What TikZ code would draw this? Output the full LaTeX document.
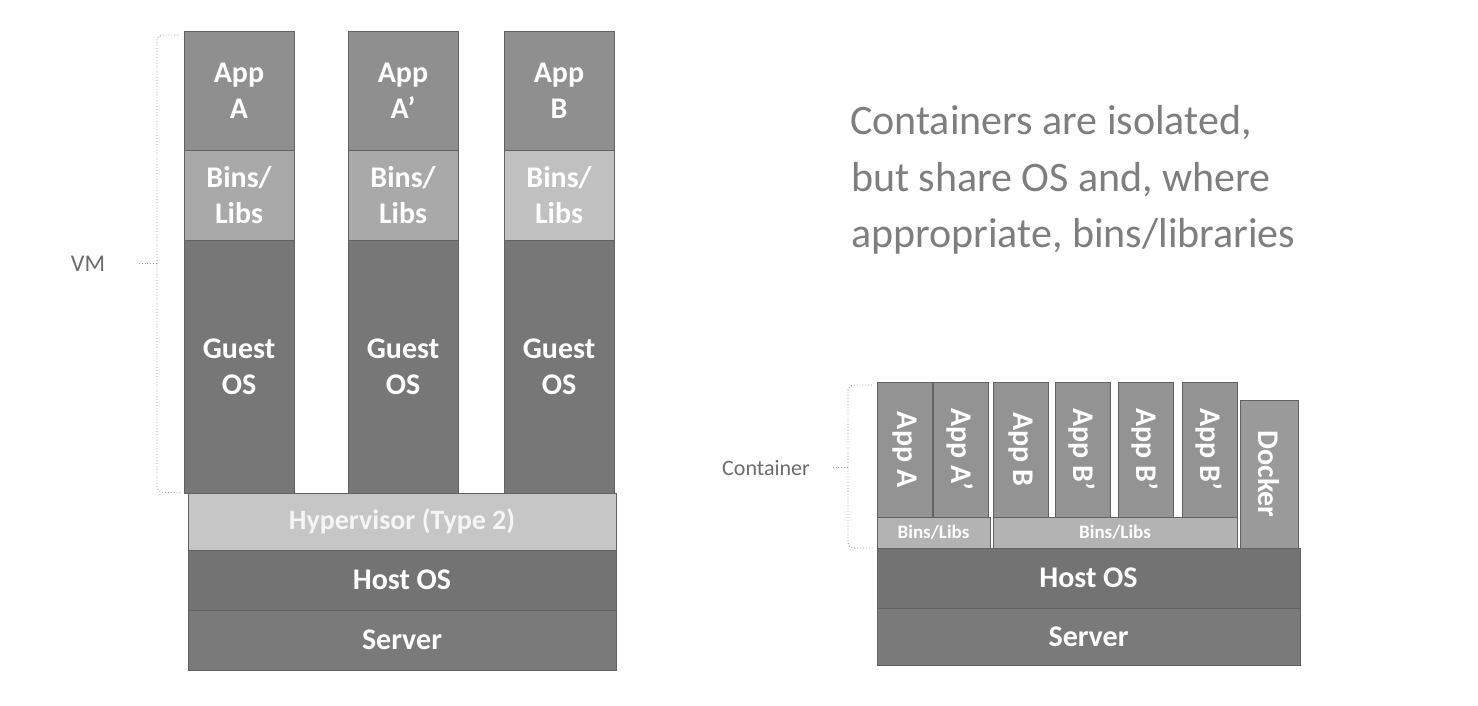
\documentclass[tikz,border=0pt]{standalone}
\usepackage{fontspec}
\setmainfont{Carlito}
\definecolor{appc}{HTML}{8F8F8F}
\definecolor{binsc}{HTML}{A9A9A9}
\definecolor{binsb}{HTML}{C0C0C0}
\definecolor{guestc}{HTML}{777777}
\definecolor{hyperc}{HTML}{C6C6C6}
\definecolor{hostc}{HTML}{737373}
\definecolor{serverc}{HTML}{7A7A7A}
\definecolor{capp}{HTML}{939393}
\definecolor{cbins}{HTML}{B3B3B3}
\definecolor{dockc}{HTML}{9A9A9A}
\definecolor{edgec}{HTML}{626262}
\definecolor{titlec}{HTML}{7E7E7E}
\definecolor{bracec}{HTML}{9A9A9A}
\begin{document}
\begin{tikzpicture}[x=1pt,y=-1pt,
  box/.style={draw=edgec, line width=0.8pt, inner sep=0pt, text=white, align=center,
    font=\fontsize{30}{36}\selectfont\bfseries},
  colw/.style={minimum width=110pt},
  vbox/.style={box, minimum width=55pt, minimum height=135pt, fill=capp},
  vtext/.style={rotate=-90},
  smalllbl/.style={font=\fontsize{19}{22}\selectfont\bfseries},
  sidelbl/.style={inner sep=0pt, text=gray!85!black, font=\fontsize{24}{28}\selectfont},
  titleline/.style={anchor=base west, inner sep=0pt, text=titlec, font=\fontsize{42}{56}\selectfont},
  bracket/.style={draw=bracec, dotted, line width=0.9pt, rounded corners=5pt},
]
\useasboundingbox (0,0) rectangle (1478,706);

% ---------- Left stack (VMs) ----------
% column 1
\node[box, colw, minimum height=119pt, fill=appc]   (a1) at (239,90.5)  {App\\A};
\node[box, colw, minimum height=90pt,  fill=binsc]  (b1) at (239,195)   {Bins/\\Libs};
\node[box, colw, minimum height=253pt, fill=guestc] (g1) at (239,366.5) {Guest\\OS};
% column 2
\node[box, colw, minimum height=119pt, fill=appc]   (a2) at (403,90.5)  {App\\A’};
\node[box, colw, minimum height=90pt,  fill=binsc]  (b2) at (403,195)   {Bins/\\Libs};
\node[box, colw, minimum height=253pt, fill=guestc] (g2) at (403,366.5) {Guest\\OS};
% column 3
\node[box, colw, minimum height=119pt, fill=appc]   (a3) at (559,90.5)  {App\\B};
\node[box, colw, minimum height=90pt,  fill=binsb]  (b3) at (559,195)   {Bins/\\Libs};
\node[box, colw, minimum height=253pt, fill=guestc] (g3) at (559,366.5) {Guest\\OS};
% base layers
\node[box, minimum width=428pt, minimum height=57pt, fill=hyperc, text=white!92!gray,
      font=\fontsize{28}{34}\selectfont\bfseries] (hyp) at (402,521.5) {Hypervisor (Type 2)};
\node[box, minimum width=428pt, minimum height=60pt, fill=hostc]   (host1) at (402,580) {Host OS};
\node[box, minimum width=428pt, minimum height=60pt, fill=serverc] (srv1)  at (402,640) {Server};

% VM bracket
\node[sidelbl] (vm) at (88,264) {VM};
\coordinate (vmtop) at (178,35);
\coordinate (vmbot) at (182,493);
\coordinate (vmtip) at (139,263);
\draw[bracket] (vmtop) -- (157,35) -- (157,492) -- (vmbot);
\draw[bracket] (157,263) -- (vmtip);

% ---------- Title ----------
\node[titleline] (t1) at (850,135) {Containers are isolated,};
\node[titleline] (t2) at (851,191) {but share OS and, where};
\node[titleline] (t3) at (851,247) {appropriate, bins/libraries};

% ---------- Right stack (containers) ----------
\node[vbox] (ca1) at (904.5,449.5)  {\rotatebox{-90}{App A}};
\node[vbox] (ca2) at (960.5,449.5)  {\rotatebox{-90}{App A’}};
\node[vbox] (cb1) at (1020.5,449.5) {\rotatebox{-90}{App B}};
\node[vbox] (cb2) at (1082.5,449.5) {\rotatebox{-90}{App B’}};
\node[vbox] (cb3) at (1145.5,449.5) {\rotatebox{-90}{App B’}};
\node[vbox] (cb4) at (1209.5,449.5) {\rotatebox{-90}{App B’}};
\node[box, smalllbl, minimum width=113pt, minimum height=31pt, fill=cbins] (cl1) at (933.5,532.5) {Bins/Libs};
\node[box, smalllbl, minimum width=244pt, minimum height=31pt, fill=cbins] (cl2) at (1115,532.5) {Bins/Libs};
\node[box, minimum width=58pt, minimum height=148pt, fill=dockc] (dock) at (1269,474) {\rotatebox{-90}{Docker}};
\node[box, minimum width=423pt, minimum height=60pt, fill=hostc]   (host2) at (1088.5,578) {Host OS};
\node[box, minimum width=423pt, minimum height=57pt, fill=serverc] (srv2)  at (1088.5,636.5) {Server};

% Container bracket
\node[sidelbl, font=\fontsize{22}{26}\selectfont] (clab) at (766,468) {Container};
\coordinate (ctop) at (872,385);
\coordinate (cbot) at (874,548);
\coordinate (ctip) at (832,467);
\draw[bracket] (ctop) -- (848,385) -- (848,548) -- (cbot);
\draw[bracket] (848,467) -- (ctip);
\end{tikzpicture}
\end{document}
